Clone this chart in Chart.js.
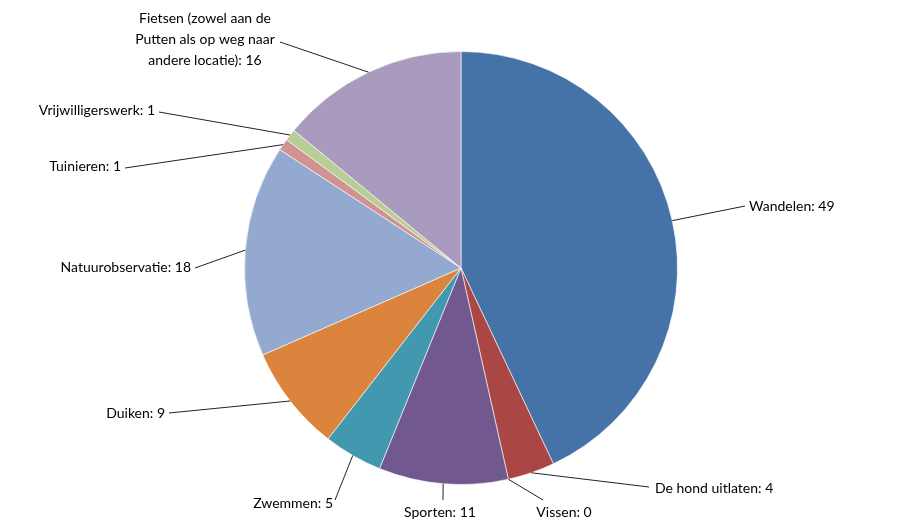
<!DOCTYPE html>
<html>
<head>
<meta charset="utf-8">
<script src="https://cdn.jsdelivr.net/npm/chart.js@4"></script>
<style>
  html, body { margin: 0; padding: 0; background: #fff; }
  #wrap { width: 900px; height: 530px; }
</style>
</head>
<body>
<div id="wrap"><canvas id="pie"></canvas></div>
<script>
const categories = [
  'Wandelen', 'De hond uitlaten', 'Vissen', 'Sporten', 'Zwemmen',
  'Duiken', 'Natuurobservatie', 'Tuinieren', 'Vrijwilligerswerk',
  ['Fietsen (zowel aan de', 'Putten als op weg naar', 'andere locatie)']
];
const values = [49, 4, 0, 11, 5, 9, 18, 1, 1, 16];
const colors = [
  '#4572A7', '#AA4643', '#89A54E', '#71588F', '#4198AF',
  '#DB843D', '#93A9CF', '#D19392', '#B9CD96', '#A99BBD'
];

// label placement relative to the pie centre: line end [dx, dy], text pos [dx, dy], align
const labelLayout = [
  { end: [284, -62], text: [288, -62], align: 'left' },
  { end: [188, 219], text: [194, 220], align: 'left' },
  { end: [82, 232], text: [103, 244], align: 'center' },
  { end: [-18, 232], text: [-21, 244], align: 'center' },
  { end: [-126, 232], text: [-128, 235], align: 'right' },
  { end: [-292, 145], text: [-296, 145], align: 'right' },
  { end: [-266, 0], text: [-270, -1], align: 'right' },
  { end: [-336, -100], text: [-340, -102], align: 'right' },
  { end: [-302, -156], text: [-306, -158], align: 'right' },
  { end: [-181, -226], text: [-256, -250], align: 'center' }
];

const leaderLabels = {
  id: 'leaderLabels',
  afterDatasetsDraw(chart) {
    const ctx = chart.ctx;
    const arcs = chart.getDatasetMeta(0).data;
    ctx.save();
    ctx.font = '14px Lato, "Open Sans", sans-serif';
    ctx.fillStyle = '#000';
    ctx.strokeStyle = '#222';
    ctx.lineWidth = 1;
    arcs.forEach((arc, i) => {
      const lay = labelLayout[i];
      const mid = (arc.startAngle + arc.endAngle) / 2;
      const ex = arc.x + Math.cos(mid) * arc.outerRadius;
      const ey = arc.y + Math.sin(mid) * arc.outerRadius;
      ctx.beginPath();
      ctx.moveTo(ex, ey);
      ctx.lineTo(arc.x + lay.end[0], arc.y + lay.end[1]);
      ctx.stroke();
      const name = categories[i];
      const lines = Array.isArray(name) ? name.slice() : [name];
      lines[lines.length - 1] += ': ' + values[i];
      ctx.textAlign = lay.align;
      ctx.textBaseline = 'middle';
      lines.forEach((t, k) => {
        ctx.fillText(t, arc.x + lay.text[0], arc.y + lay.text[1] + k * 21);
      });
    });
    ctx.restore();
  }
};

new Chart(document.getElementById('pie'), {
  type: 'pie',
  data: {
    labels: categories.map(c => Array.isArray(c) ? c.join(' ') : c),
    datasets: [{
      data: values,
      backgroundColor: colors,
      borderColor: 'rgba(255,255,255,0.6)',
      borderWidth: 1
    }]
  },
  options: {
    responsive: true,
    maintainAspectRatio: false,
    animation: false,
    layout: { padding: { left: 200, right: 178, top: 51, bottom: 45 } },
    plugins: {
      legend: { display: false },
      tooltip: { enabled: false }
    }
  },
  plugins: [leaderLabels]
});
</script>
</body>
</html>
